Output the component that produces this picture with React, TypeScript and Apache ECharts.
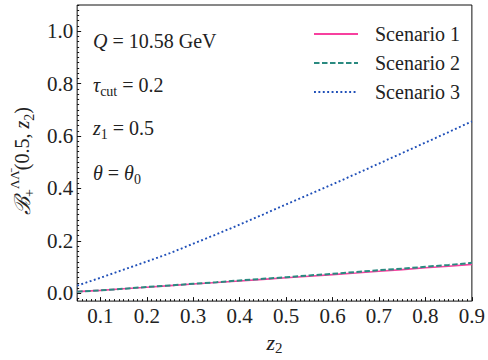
import React, { useEffect, useRef } from "react";
import * as echarts from "echarts";

const zValues = [0.05, 0.1, 0.15, 0.2, 0.25, 0.3, 0.35, 0.4, 0.45, 0.5, 0.55, 0.6, 0.65, 0.7, 0.75, 0.8, 0.85, 0.9];
const scenario1 = [0.006, 0.011, 0.017, 0.023, 0.029, 0.035, 0.041, 0.047, 0.053, 0.059, 0.065, 0.071, 0.077, 0.084, 0.090, 0.097, 0.103, 0.110];
const scenario2 = [0.006, 0.011, 0.017, 0.024, 0.030, 0.036, 0.042, 0.049, 0.055, 0.061, 0.068, 0.074, 0.081, 0.088, 0.094, 0.101, 0.108, 0.116];
const scenario3 = [0.029, 0.059, 0.090, 0.121, 0.153, 0.189, 0.225, 0.262, 0.300, 0.339, 0.377, 0.416, 0.455, 0.495, 0.535, 0.575, 0.615, 0.656];

const seriesNames = ["Scenario 1", "Scenario 2", "Scenario 3"];
const xTickLabels = [0.1, 0.2, 0.3, 0.4, 0.5, 0.6, 0.7, 0.8, 0.9];
const yTickLabels = [0.0, 0.2, 0.4, 0.6, 0.8, 1.0];

const X_MIN = 0.05, X_MAX = 0.9;
const Y_MIN = -0.03, Y_MAX = 1.1;

const FONT = "Liberation Serif";
const INK = "#222";

function minorTicks(min: number, max: number, step: number): number[] {
  const out: number[] = [];
  const start = Math.ceil(min / step - 1e-9);
  const end = Math.floor(max / step + 1e-9);
  for (let i = start; i <= end; i++) out.push(Math.round(i * step * 1000) / 1000);
  return out;
}

const pairs = (ys: number[]) => zValues.map((z, i) => [z, ys[i]]);

export default function App() {
  const ref = useRef<HTMLDivElement>(null);
  useEffect(() => {
    if (!ref.current) return;
    const chart = echarts.init(ref.current, undefined, { renderer: "svg" });
    const rich = {
      n: { fontFamily: FONT, fontSize: 20, color: INK, lineHeight: 26 },
      i: { fontFamily: FONT, fontSize: 20, fontStyle: "italic", color: INK, lineHeight: 26 },
      sub: { fontFamily: FONT, fontSize: 14, color: INK, lineHeight: 8, verticalAlign: "bottom" },
    };
    const annot = (text: string, y: number) => ({
      type: "text",
      left: 93,
      top: y - 13,
      style: { text, rich, fill: INK, fontFamily: FONT },
    });
    chart.setOption({
      animation: false,
      backgroundColor: "#fff",
      textStyle: { fontFamily: FONT },
      grid: { left: 69, right: 13, top: 5, bottom: 53, show: true, borderColor: "#111", borderWidth: 1 },
      legend: {
        data: seriesNames,
        orient: "vertical",
        left: 313,
        top: 24,
        padding: 0,
        itemWidth: 44,
        itemHeight: 14,
        itemGap: 9,
        itemStyle: { opacity: 0 },
        textStyle: { fontFamily: FONT, fontSize: 20, color: INK, lineHeight: 20, padding: [0, 0, 0, 12] },
      },
      xAxis: [
        {
          type: "value",
          min: X_MIN,
          max: X_MAX,
          position: "bottom",
          axisLine: { show: false, onZero: false },
          splitLine: { show: false },
          axisTick: { show: true, inside: true, length: 4, customValues: xTickLabels, lineStyle: { color: "#111" } },
          axisLabel: {
            customValues: xTickLabels,
            fontFamily: FONT,
            fontSize: 21,
            color: INK,
            margin: 4,
            formatter: (v: number) => v.toFixed(1),
          },
          name: "{i|z}{sub|2}",
          nameLocation: "middle",
          nameGap: 26,
          nameTextStyle: {
            rich: {
              i: { fontFamily: FONT, fontSize: 22, fontStyle: "italic", color: INK, lineHeight: 26 },
              sub: { fontFamily: FONT, fontSize: 15, color: INK, lineHeight: 8, verticalAlign: "bottom" },
            },
          },
        },
        {
          type: "value",
          min: X_MIN,
          max: X_MAX,
          position: "bottom",
          axisLine: { show: false, onZero: false },
          splitLine: { show: false },
          axisLabel: { show: false },
          axisTick: { show: true, inside: true, length: 2, customValues: minorTicks(X_MIN, X_MAX, 0.01), lineStyle: { color: "#111" } },
        },
      ],
      yAxis: [
        {
          type: "value",
          min: Y_MIN,
          max: Y_MAX,
          position: "left",
          axisLine: { show: false, onZero: false },
          splitLine: { show: false },
          axisTick: { show: true, inside: true, length: 4, customValues: yTickLabels, lineStyle: { color: "#111" } },
          axisLabel: {
            customValues: yTickLabels,
            fontFamily: FONT,
            fontSize: 21,
            color: INK,
            margin: 4,
            formatter: (v: number) => v.toFixed(1),
          },
          name: "{b|ℬ}{sub|+}{sup|ΛΛ̄}{n|(0.5, }{i|z}{sub2|2}{n|)}",
          nameLocation: "middle",
          nameGap: 40,
          nameTextStyle: {
            padding: [0, 16, 0, 0],
            rich: {
              b: { fontFamily: FONT, fontSize: 22, fontStyle: "italic", color: INK, lineHeight: 28 },
              n: { fontFamily: FONT, fontSize: 20, color: INK, lineHeight: 28 },
              i: { fontFamily: FONT, fontSize: 20, fontStyle: "italic", color: INK, lineHeight: 28 },
              sub: { fontFamily: FONT, fontSize: 14, color: INK, lineHeight: 8, verticalAlign: "bottom" },
              sub2: { fontFamily: FONT, fontSize: 14, color: INK, lineHeight: 10, verticalAlign: "bottom" },
              sup: { fontFamily: FONT, fontSize: 13, color: INK, lineHeight: 12, verticalAlign: "top" },
            },
          },
        },
        {
          type: "value",
          min: Y_MIN,
          max: Y_MAX,
          position: "left",
          axisLine: { show: false, onZero: false },
          splitLine: { show: false },
          axisLabel: { show: false },
          axisTick: { show: true, inside: true, length: 2, customValues: minorTicks(Y_MIN, Y_MAX, 0.02), lineStyle: { color: "#111" } },
        },
      ],
      graphic: [
        annot("{i|Q}{n| = 10.58 GeV}", 44),
        annot("{i|τ}{sub|cut}{n| = 0.2}", 88),
        annot("{i|z}{sub|1}{n| = 0.5}", 131),
        annot("{i|θ}{n| = }{i|θ}{sub|0}", 176),
      ],
      series: [
        {
          name: seriesNames[0],
          type: "line",
          xAxisIndex: 0,
          yAxisIndex: 0,
          data: pairs(scenario1),
          symbol: "none",
          lineStyle: { color: "#f7409f", width: 1.6 },
          itemStyle: { color: "#f7409f" },
        },
        {
          name: seriesNames[1],
          type: "line",
          xAxisIndex: 0,
          yAxisIndex: 0,
          data: pairs(scenario2),
          symbol: "none",
          lineStyle: { color: "#2a8a80", width: 2, type: [5.5, 2.5] },
          itemStyle: { color: "#2a8a80" },
        },
        {
          name: seriesNames[2],
          type: "line",
          xAxisIndex: 0,
          yAxisIndex: 0,
          data: pairs(scenario3),
          symbol: "none",
          lineStyle: { color: "#1f4fb8", width: 1.9, type: [1.9, 2.5] },
          itemStyle: { color: "#1f4fb8" },
        },
      ],
    });
    return () => chart.dispose();
  }, []);
  return <div ref={ref} style={{ width: 488, height: 360, position: "absolute", left: 0, top: 0 }} />;
}
